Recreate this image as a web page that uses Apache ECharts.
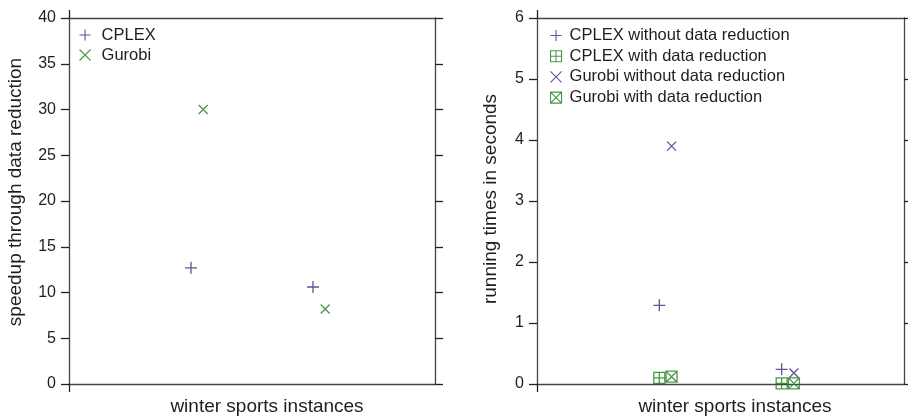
<!DOCTYPE html>
<html>
<head>
<meta charset="utf-8">
<script src="https://cdn.jsdelivr.net/npm/echarts@6/dist/echarts.min.js"></script>
<style>html,body{margin:0;padding:0;background:#fff;}#c{width:908px;height:418px;}</style>
</head>
<body>
<div id="c"></div>
<script>
// ---- data ----
const instanceX = [1, 2];            // two winter sports instances
const leftNames = ['CPLEX', 'Gurobi'];
const cplexSpeedup = [12.7, 10.6];
const gurobiSpeedup = [30.0, 8.2];
const leftYTicks = [0, 5, 10, 15, 20, 25, 30, 35, 40];

const rightNames = ['CPLEX without data reduction', 'CPLEX with data reduction',
                    'Gurobi without data reduction', 'Gurobi with data reduction'];
const cplexWithout = [1.29, 0.24];
const cplexWith = [0.10, 0.01];
const gurobiWithout = [3.90, 0.18];
const gurobiWith = [0.12, 0.01];
const rightYTicks = [0, 1, 2, 3, 4, 5, 6];

const xTitle = 'winter sports instances';
const leftYTitle = 'speedup through data reduction';
const rightYTitle = 'running times in seconds';

// ---- style ----
const FONT = '"Liberation Sans", Arial, Helvetica, sans-serif';
const PURPLE = '#35297f';
const GREEN = '#1d7d1d';
const AX = '#444';
const DODGE = 0.1;

const SYM_PLUS = 'path://M0,5L10,5M5,0L5,10';
const SYM_X = 'path://M0,0L10,10M0,10L10,0';
const SYM_BPLUS = 'path://M0,0L10,0L10,10L0,10ZM5,0L5,10M0,5L10,5';
const SYM_BX = 'path://M0,0L10,0L10,10L0,10ZM0,0L10,10M0,10L10,0';

function pts(xs, ys, off) { return xs.map((x, i) => [x + off, ys[i]]); }

function xAxes(g) {
  return ['bottom', 'top'].map(pos => ({
    gridIndex: g, type: 'value', position: pos, min: 0, max: 3, interval: 3,
    axisLine: {show: true, onZero: false, lineStyle: {color: AX, width: 1.3}},
    axisTick: {show: true, inside: false, length: 8, customValues: [0], lineStyle: {color: '#222', width: 1.3}},
    axisLabel: {show: false}, splitLine: {show: false}
  }));
}
function yAxes(g, ticks) {
  const mn = ticks[0], mx = ticks[ticks.length - 1], iv = ticks[1] - ticks[0];
  return ['left', 'right'].map(pos => ({
    gridIndex: g, type: 'value', position: pos, min: mn, max: mx, interval: iv,
    axisLine: {show: true, onZero: false, lineStyle: {color: AX, width: 1.3}},
    axisTick: {show: true, inside: false, length: 8, lineStyle: {color: '#222', width: 1.3}},
    axisLabel: {show: pos === 'left', margin: 13, fontSize: 16, color: '#1e1e1e', fontFamily: FONT},
    splitLine: {show: false}
  }));
}
function ser(name, xi, yi, data, sym, size, color, bw) {
  return {
    name, type: 'scatter', xAxisIndex: xi, yAxisIndex: yi, data,
    symbol: sym, symbolSize: size, symbolKeepAspect: true,
    itemStyle: {color: 'rgba(0,0,0,0)', borderColor: color, borderWidth: bw},
    emphasis: {disabled: true}, silent: true, z: 5
  };
}

const chart = echarts.init(document.getElementById('c'), null, {renderer: 'canvas'});
const option = {
  animation: false,
  backgroundColor: '#fff',
  grid: [
    {left: 69, right: 473, top: 18, bottom: 34, containLabel: false},
    {left: 537, right: 4, top: 18, bottom: 34, containLabel: false}
  ],
  xAxis: [...xAxes(0), ...xAxes(1)],
  yAxis: [...yAxes(0, leftYTicks), ...yAxes(1, rightYTicks)],
  legend: [
    {
      data: leftNames, orient: 'vertical', left: 79, top: 25, padding: 0,
      itemWidth: 11, itemHeight: 11, itemGap: 0, selectedMode: false,
      itemStyle: {borderWidth: 1.1},
      textStyle: {fontSize: 16.5, lineHeight: 20, color: '#1e1e1e', fontFamily: FONT, padding: [0, 0, 0, 6]}
    },
    {
      data: rightNames, orient: 'vertical', left: 550, top: 25.5, padding: 0,
      itemWidth: 11, itemHeight: 11, itemGap: 0.7, selectedMode: false,
      itemStyle: {borderWidth: 1.1},
      textStyle: {fontSize: 16.5, lineHeight: 20, color: '#1e1e1e', fontFamily: FONT, padding: [0, 0, 0, 3]}
    }
  ],
  series: [
    ser(leftNames[0], 0, 0, pts(instanceX, cplexSpeedup, 0), SYM_PLUS, 12, PURPLE, 1.3),
    ser(leftNames[1], 0, 0, pts(instanceX, gurobiSpeedup, DODGE), SYM_X, 9, GREEN, 1.3),
    ser(rightNames[0], 2, 2, pts(instanceX, cplexWithout, 0), SYM_PLUS, 12, PURPLE, 1.3),
    ser(rightNames[1], 2, 2, pts(instanceX, cplexWith, 0), SYM_BPLUS, 11, GREEN, 1.3),
    ser(rightNames[2], 2, 2, pts(instanceX, gurobiWithout, DODGE), SYM_X, 9, PURPLE, 1.3),
    ser(rightNames[3], 2, 2, pts(instanceX, gurobiWith, DODGE), SYM_BX, 11, GREEN, 1.3)
  ],
  graphic: [
    {type: 'text', x: 267, y: 407, style: {text: xTitle, font: '19px ' + FONT, fill: '#1e1e1e', textAlign: 'center', textVerticalAlign: 'middle'}},
    {type: 'text', x: 735, y: 407, style: {text: xTitle, font: '19px ' + FONT, fill: '#1e1e1e', textAlign: 'center', textVerticalAlign: 'middle'}},
    {type: 'text', x: 16, y: 192, rotation: Math.PI / 2, style: {text: leftYTitle, font: '19px ' + FONT, fill: '#1e1e1e', textAlign: 'center', textVerticalAlign: 'middle'}},
    {type: 'text', x: 491, y: 199, rotation: Math.PI / 2, style: {text: rightYTitle, font: '19px ' + FONT, fill: '#1e1e1e', textAlign: 'center', textVerticalAlign: 'middle'}}
  ]
};
chart.setOption(option);
</script>
</body>
</html>
